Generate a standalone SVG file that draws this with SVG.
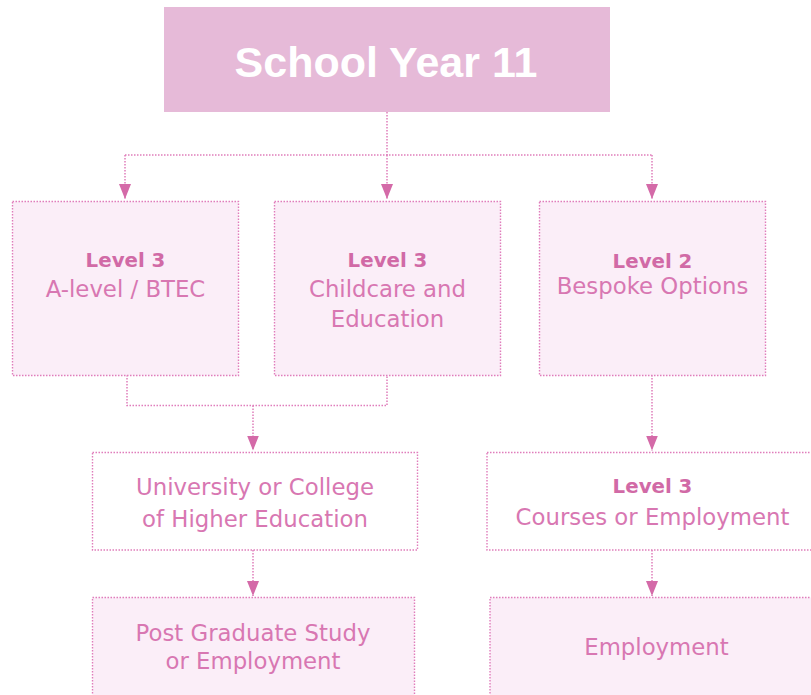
<svg xmlns="http://www.w3.org/2000/svg" width="811" height="695" viewBox="0 0 811 695">
<style>
.box{stroke:#e07dbb;stroke-width:1.4;stroke-dasharray:1.5 1.5}
.lite{fill:#fbeef8}
.white{fill:#ffffff}
.conn{fill:none;stroke:#e07dbb;stroke-width:1.5;stroke-dasharray:1.5 1.5}
text{font-family:"DejaVu Sans","Liberation Sans",sans-serif;fill:#d46fab;text-anchor:middle}
.b{font-weight:bold;font-size:19.8px;fill:#d16aa6}
.r{font-size:22.8px;fill:#d877b2}
.title{font-family:"Liberation Sans",Arial,sans-serif;font-weight:bold;font-size:43px;fill:#ffffff}
</style>
<defs>
<marker id="arr" markerUnits="userSpaceOnUse" markerWidth="16" markerHeight="14" refX="15" refY="0" viewBox="0 -7 16 14" orient="auto">
<path d="M0,-6 L15,0 L0,6 z" fill="#d46aa8"/>
</marker>
</defs>
<g id="connectors">
<path class="conn" d="M387,112 V155"/>
<path class="conn" d="M125,155 H652"/>
<path class="conn" d="M125,155 V199" marker-end="url(#arr)"/>
<path class="conn" d="M387,155 V199" marker-end="url(#arr)"/>
<path class="conn" d="M652,155 V199" marker-end="url(#arr)"/>
<path class="conn" d="M127,375 V405.5 H387 V375"/>
<path class="conn" d="M253,405.5 V450.5" marker-end="url(#arr)"/>
<path class="conn" d="M652,375 V450.5" marker-end="url(#arr)"/>
<path class="conn" d="M253,550 V596" marker-end="url(#arr)"/>
<path class="conn" d="M652,550 V596" marker-end="url(#arr)"/>
</g>
<g id="school-year-11">
<rect x="164" y="7" width="446" height="105" fill="#e6bad8"/>
<text class="title" x="386" y="77">School Year 11</text>
</g>
<g id="level3-alevel">
<rect class="box lite" x="12.5" y="201.5" width="226" height="174"/>
<text class="b" x="125.5" y="267">Level 3</text>
<text class="r" x="125.5" y="297">A-level / BTEC</text>
</g>
<g id="level3-childcare">
<rect class="box lite" x="274.5" y="201.5" width="226" height="174"/>
<text class="b" x="387.5" y="267">Level 3</text>
<text class="r" x="387.5" y="297">Childcare and</text>
<text class="r" x="387.5" y="327">Education</text>
</g>
<g id="level2-bespoke">
<rect class="box lite" x="539.5" y="201.5" width="226" height="174"/>
<text class="b" x="652.5" y="268">Level 2</text>
<text class="r" x="652.5" y="294">Bespoke Options</text>
</g>
<g id="university">
<rect class="box white" x="92.5" y="452.5" width="325" height="97.5"/>
<text class="r" x="255" y="495">University or College</text>
<text class="r" x="255" y="527">of Higher Education</text>
</g>
<g id="level3-courses">
<rect class="box white" x="487" y="452.5" width="340" height="97.5"/>
<text class="b" x="652.5" y="493">Level 3</text>
<text class="r" x="652.5" y="525">Courses or Employment</text>
</g>
<g id="postgraduate">
<rect class="box lite" x="92.5" y="597.5" width="322" height="110"/>
<text class="r" x="253" y="641">Post Graduate Study</text>
<text class="r" x="253" y="669">or Employment</text>
</g>
<g id="employment">
<rect class="box lite" x="490" y="597.5" width="340" height="110"/>
<text class="r" x="656.5" y="655">Employment</text>
</g>
</svg>
